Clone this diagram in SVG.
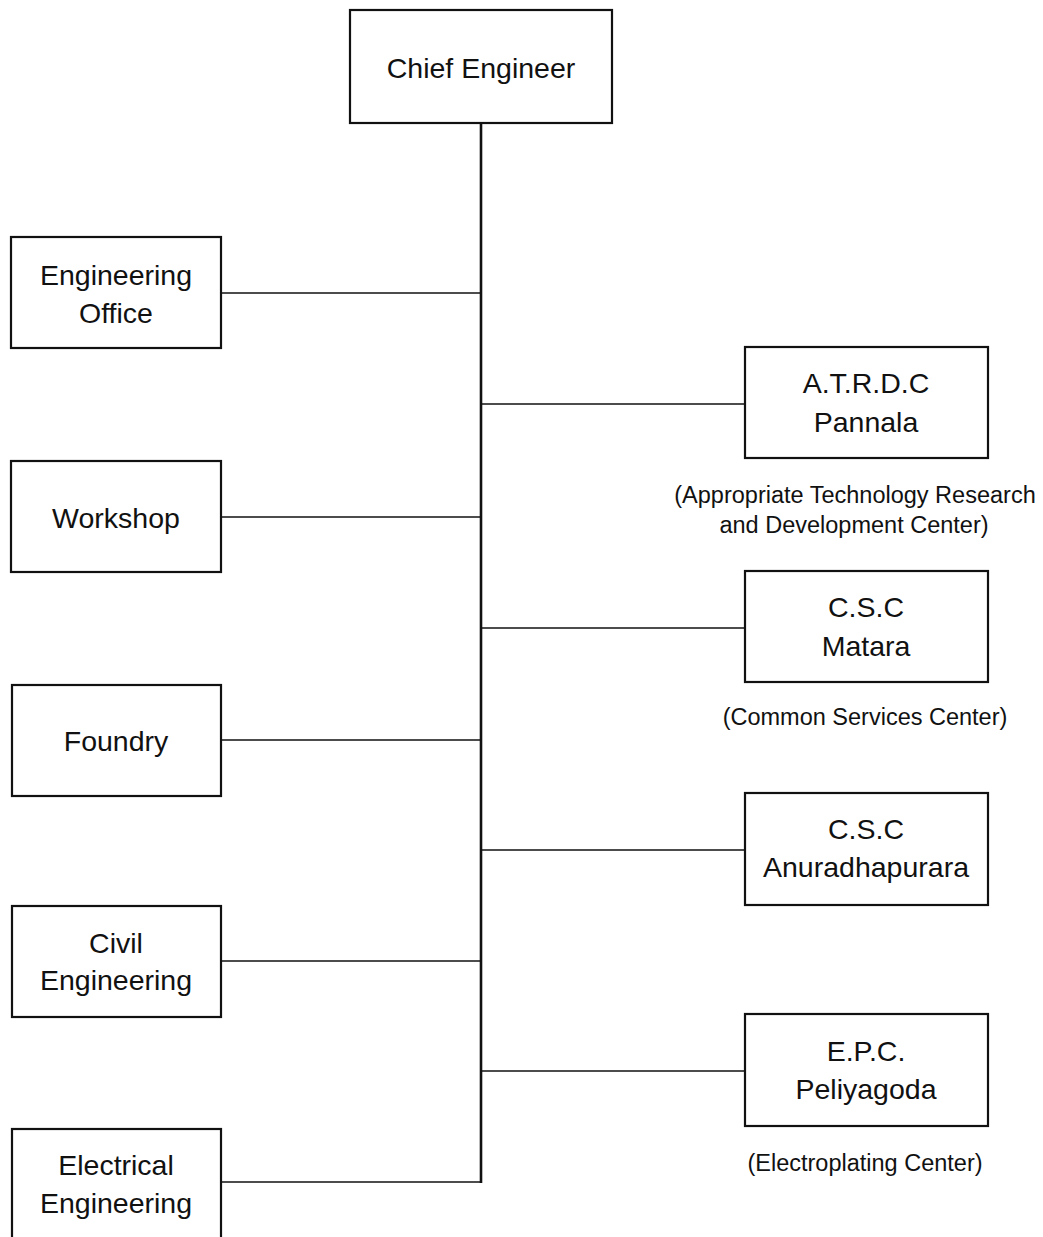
<svg xmlns="http://www.w3.org/2000/svg" width="1043" height="1237" viewBox="0 0 1043 1237">
  <style>
    .box { fill: #ffffff; stroke: #111111; stroke-width: 2.2; }
    .lbl { font-family: "Liberation Sans", Arial, sans-serif; font-size: 28.5px; fill: #111111; text-anchor: middle; }
    .cap { font-family: "Liberation Sans", Arial, sans-serif; font-size: 23.5px; fill: #111111; text-anchor: middle; }
    .wire { stroke: #111111; fill: none; }
  </style>
  <rect x="0" y="0" width="1043" height="1237" fill="#ffffff"/>

  <!-- connectors: central trunk and branches -->
  <g id="connectors">
    <line class="wire" x1="481" y1="123" x2="481" y2="1183" stroke-width="2.6"/>
    <line class="wire" x1="221" y1="293" x2="481" y2="293" stroke-width="1.6"/>
    <line class="wire" x1="221" y1="517" x2="481" y2="517" stroke-width="1.6"/>
    <line class="wire" x1="221" y1="740" x2="481" y2="740" stroke-width="1.6"/>
    <line class="wire" x1="221" y1="961" x2="481" y2="961" stroke-width="1.6"/>
    <line class="wire" x1="221" y1="1182" x2="482" y2="1182" stroke-width="1.6"/>
    <line class="wire" x1="481" y1="404" x2="745" y2="404" stroke-width="1.6"/>
    <line class="wire" x1="481" y1="628" x2="745" y2="628" stroke-width="1.6"/>
    <line class="wire" x1="481" y1="850" x2="745" y2="850" stroke-width="1.6"/>
    <line class="wire" x1="481" y1="1071" x2="745" y2="1071" stroke-width="1.6"/>
  </g>

  <g id="chief-engineer">
    <rect class="box" x="350" y="10" width="262" height="113"/>
    <text class="lbl" x="481" y="78">Chief Engineer</text>
  </g>

  <g id="engineering-office">
    <rect class="box" x="11" y="237" width="210" height="111"/>
    <text class="lbl" x="116" y="285">Engineering</text>
    <text class="lbl" x="116" y="323">Office</text>
  </g>

  <g id="workshop">
    <rect class="box" x="11" y="461" width="210" height="111"/>
    <text class="lbl" x="116" y="528">Workshop</text>
  </g>

  <g id="foundry">
    <rect class="box" x="12" y="685" width="209" height="111"/>
    <text class="lbl" x="116" y="751">Foundry</text>
  </g>

  <g id="civil-engineering">
    <rect class="box" x="12" y="906" width="209" height="111"/>
    <text class="lbl" x="116" y="953">Civil</text>
    <text class="lbl" x="116" y="990">Engineering</text>
  </g>

  <g id="electrical-engineering">
    <rect class="box" x="12" y="1129" width="209" height="130"/>
    <text class="lbl" x="116" y="1175">Electrical</text>
    <text class="lbl" x="116" y="1213">Engineering</text>
  </g>

  <g id="atrdc-pannala">
    <rect class="box" x="745" y="347" width="243" height="111"/>
    <text class="lbl" x="866" y="393">A.T.R.D.C</text>
    <text class="lbl" x="866" y="432">Pannala</text>
    <text class="cap" x="855" y="503">(Appropriate Technology Research</text>
    <text class="cap" x="854" y="533">and Development Center)</text>
  </g>

  <g id="csc-matara">
    <rect class="box" x="745" y="571" width="243" height="111"/>
    <text class="lbl" x="866" y="617">C.S.C</text>
    <text class="lbl" x="866" y="656">Matara</text>
    <text class="cap" x="865" y="725">(Common Services Center)</text>
  </g>

  <g id="csc-anuradhapurara">
    <rect class="box" x="745" y="793" width="243" height="112"/>
    <text class="lbl" x="866" y="839">C.S.C</text>
    <text class="lbl" x="866" y="877">Anuradhapurara</text>
  </g>

  <g id="epc-peliyagoda">
    <rect class="box" x="745" y="1014" width="243" height="112"/>
    <text class="lbl" x="866" y="1061">E.P.C.</text>
    <text class="lbl" x="866" y="1099">Peliyagoda</text>
    <text class="cap" x="865" y="1171">(Electroplating Center)</text>
  </g>
</svg>
